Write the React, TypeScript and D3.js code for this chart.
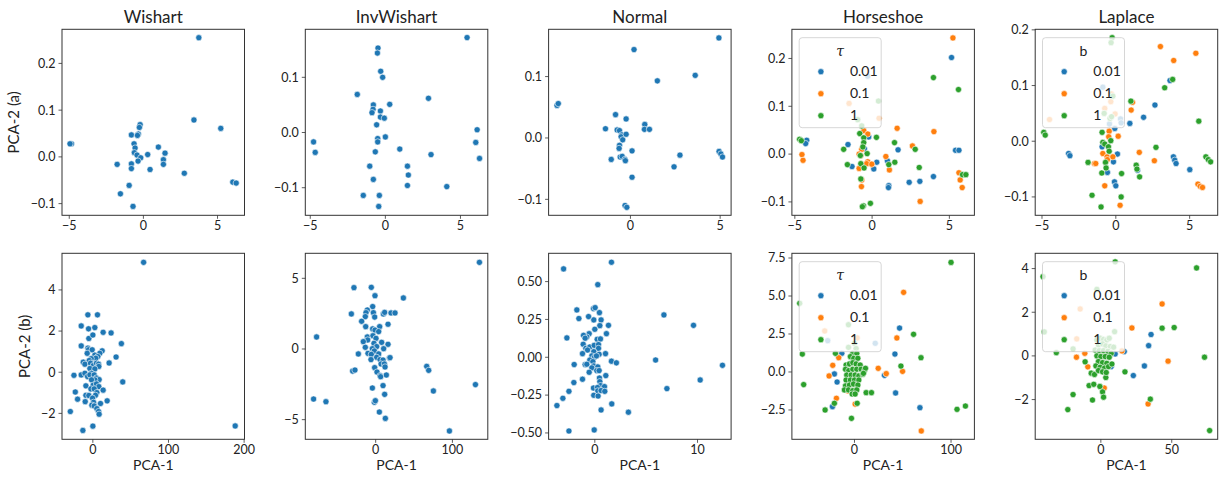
import React from 'react';
import * as d3 from 'd3';

type Pt = [number, number];

const BLUE = '#1f77b4';
const ORANGE = '#ff7f0e';
const GREEN = '#2ca02c';
const FONT = 'Lato, "Liberation Sans", sans-serif';

// ---- row (a) ----
const wishartA: Pt[] = [
  [3.74, 0.255], [3.41, 0.079], [5.22, 0.061], [-4.85, 0.028], [-4.95, 0.028], [-0.22, 0.069],
  [-0.27, 0.063], [-0.81, 0.047], [-0.34, 0.049], [-0.4, 0.046], [-0.63, 0.028], [-0.56, 0.019],
  [-0.61, 0.009], [-0.43, 0.004], [-0.18, -0.002], [-0.36, -0.009], [0.29, 0.005], [1.01, 0.021],
  [1.46, 0.008], [1.35, -0.006], [1.35, -0.016], [0.45, -0.027], [2.76, -0.035], [-1.77, -0.016],
  [-0.81, -0.015], [-0.81, -0.025], [-0.96, -0.061], [-1.55, -0.079], [-0.7, -0.106], [6.03, -0.054],
  [6.26, -0.056],
];

const invWishartA: Pt[] = [
  [5.44, 0.172], [-0.49, 0.153], [-0.53, 0.144], [-0.31, 0.111], [-0.18, 0.1], [-1.87, 0.069],
  [2.87, 0.062], [0.29, 0.051], [-0.8, 0.05], [-0.82, 0.042], [-0.89, 0.036], [-0.33, 0.039],
  [-0.33, 0.028], [-0.07, 0.026], [-0.58, 0.014], [6.11, 0.005], [0.0, -0.008], [-0.51, -0.011],
  [-0.51, -0.017], [-4.78, -0.017], [-4.67, -0.036], [6.02, -0.018], [-0.67, -0.035], [0.96, -0.03],
  [3.04, -0.04], [6.27, -0.047], [-1.04, -0.061], [1.47, -0.061], [1.53, -0.077], [1.47, -0.096],
  [-0.8, -0.085], [4.09, -0.098], [-1.47, -0.114], [-0.4, -0.114], [-0.44, -0.134],
];

const normalA: Pt[] = [
  [4.93, 0.163], [0.2, 0.144], [3.61, 0.102], [1.5, 0.093], [-4.09, 0.053], [-4.02, 0.056],
  [-0.83, 0.038], [-0.24, 0.031], [-1.39, 0.015], [-0.74, 0.013], [-0.61, 0.012], [0.8, 0.022],
  [0.78, 0.014], [1.06, 0.014], [-0.48, 0.005], [-0.52, 0.002], [-0.43, -0.003], [-0.24, 0.006],
  [-0.61, -0.012], [-0.63, -0.017], [0.09, -0.021], [-1.07, -0.035], [-0.57, -0.031], [-0.46, -0.03],
  [-0.31, -0.035], [-0.28, -0.037], [2.76, -0.028], [2.43, -0.047], [4.94, -0.022], [5.04, -0.026],
  [5.13, -0.031], [0.09, -0.064], [-0.3, -0.11], [-0.2, -0.113],
];

const horseshoeA001: Pt[] = [
  [5.14, 0.202], [-0.28, 0.163], [-4.23, 0.029], [-4.3, 0.022], [-1.56, 0.02], [-0.22, 0.036],
  [-0.5, 0.011], [1.68, 0.009], [0.3, -0.017], [0.11, -0.031], [0.99, -0.014], [-1.3, -0.026],
  [1.08, -0.066], [1.06, -0.07], [2.4, -0.059], [3.09, -0.057], [3.97, -0.047], [5.4, 0.008],
  [5.62, 0.008],
];
const horseshoeA01: Pt[] = [
  [5.23, 0.243], [-1.49, 0.106], [0.45, 0.075], [1.62, 0.054], [4.0, 0.047], [-0.54, 0.049],
  [-0.28, 0.042], [-4.54, -0.001], [-4.47, -0.013], [2.61, 0.017], [-0.67, 0.01], [-0.84, 0.0],
  [-0.73, -0.003], [-0.28, -0.016], [-0.35, -0.02], [-0.02, -0.021], [0.89, -0.005], [1.12, -0.033],
  [-0.84, -0.03], [-0.67, -0.054], [-0.69, -0.068], [3.11, -0.099], [5.62, -0.039], [5.7, -0.054],
  [5.83, -0.07],
];
const horseshoeA1: Pt[] = [
  [3.97, 0.16], [5.59, 0.135], [0.41, 0.111], [-0.93, 0.072], [-0.67, 0.059], [-0.8, 0.043],
  [0.28, 0.035], [-0.54, 0.034], [-0.54, 0.024], [-4.69, 0.031], [-4.58, 0.028], [1.45, 0.024],
  [-1.84, 0.01], [2.79, 0.01], [-0.6, 0.015], [-0.32, 0.001], [-0.76, -0.003], [-0.73, -0.02],
  [-0.52, -0.029], [-1.6, -0.022], [1.47, -0.017], [1.08, -0.022], [3.05, -0.028], [-0.73, -0.052],
  [5.85, -0.043], [6.07, -0.043], [-0.56, -0.108], [-0.63, -0.11], [-0.11, -0.103],
];

const laplaceA001: Pt[] = [
  [-0.88, 0.097], [-0.43, 0.031], [0.32, 0.04], [0.36, 0.033], [-0.07, 0.023], [0.95, 0.032],
  [1.88, 0.043], [2.65, 0.065], [3.67, 0.109], [-3.2, -0.022], [-3.11, -0.026], [-0.93, -0.01],
  [0.11, -0.023], [-0.16, -0.037], [-0.57, -0.056], [-0.09, -0.073], [0.0, -0.08], [1.47, -0.052],
  [3.9, -0.028], [3.99, -0.034], [4.08, -0.04], [5.01, -0.051],
];
const laplaceA01: Pt[] = [
  [3.02, 0.17], [5.42, 0.158], [3.92, 0.145], [-0.34, 0.071], [-0.75, 0.059], [-0.05, 0.049],
  [-4.49, 0.039], [1.04, 0.056], [1.13, 0.07], [-0.45, 0.018], [-0.48, 0.008], [0.16, 0.009],
  [-0.88, -0.022], [-0.59, -0.028], [-0.57, -0.033], [-0.2, -0.028], [-1.45, -0.04], [-1.36, -0.04],
  [1.59, -0.02], [2.61, -0.035], [-0.75, -0.08], [0.29, -0.115], [5.56, -0.077], [5.71, -0.081],
  [5.87, -0.083], [-0.3, 0.085],
];
const laplaceA1: Pt[] = [
  [-0.25, 0.186], [-0.32, 0.177], [-0.2, 0.081], [-0.79, 0.05], [-0.39, 0.041], [-0.29, 0.044],
  [1.02, 0.072], [3.85, 0.111], [3.31, 0.096], [5.62, 0.036], [-4.88, 0.016], [-4.78, 0.011],
  [-0.93, 0.016], [-0.88, -0.002], [-0.75, -0.005], [-0.5, -0.01], [-0.45, -0.018], [-0.34, 0.001],
  [-0.7, -0.038], [-0.66, -0.048], [-1.88, -0.038], [2.72, -0.011], [1.38, -0.043], [1.43, -0.05],
  [1.61, -0.064], [0.39, -0.058], [-0.95, -0.057], [-1.61, -0.097], [0.36, -0.1], [-1.0, -0.118],
  [6.1, -0.028], [6.26, -0.033], [6.42, -0.037],
];

// ---- row (b) ----
const wishartB: Pt[] = [
  [67.1, 5.34], [188.2, -2.61], [-6.6, 2.79], [6.1, 2.79], [-15.4, 2.25], [-5.7, 2.11], [2.6, 2.17],
  [-5.3, 1.64], [0, 1.81], [13.6, 1.94], [24.1, 1.91], [37.7, 1.39], [30.7, 0.74], [21.5, 0.45],
  [-15.4, 1.28], [-6.6, 1.17], [-5.7, 1.09], [-0.9, 1.09], [12.3, 1.04], [9.2, 0.92], [-7.5, 0.92],
  [2.6, 0.83], [6.6, 0.76], [3.9, 0.68], [-2.2, 0.66], [-4.8, 0.57], [-12.7, 0.49], [-10.5, 0.39],
  [-3.1, 0.44], [0.4, 0.32], [4.8, 0.44], [7.5, 0.39], [7.9, 0.28], [-3.9, 0.18], [2.6, 0.16],
  [-25.0, -0.15], [-15.4, -0.13], [-10.5, -0.05], [-7.0, -0.21], [-1.8, -0.05], [-3.9, -0.13],
  [1.8, -0.13], [4.8, -0.28], [8.3, -0.36], [2.6, -0.37], [-1.8, -0.37], [39.5, -0.47], [-9.2, -0.66],
  [0.4, -0.63], [4.8, -0.57], [7.9, -0.7], [13.6, -0.87], [-2.6, -0.81], [1.8, -0.81], [-23.2, -0.96],
  [5.3, -0.99], [-9.2, -1.12], [-5.3, -1.13], [3.5, -1.12], [-0.4, -1.26], [-20.2, -1.31],
  [-10.1, -1.43], [0.9, -1.46], [18.9, -1.39], [10.1, -1.52], [-1.3, -1.6], [1.8, -1.64], [5.3, -1.77],
  [7.5, -1.91], [8.3, -2.04], [-29.8, -1.91], [0, -2.62], [-13.2, -2.83],
];

const invWishartB: Pt[] = [
  [135.2, 6.13], [-28.3, 4.34], [-5.7, 4.36], [-0.9, 3.77], [36.1, 3.61], [-3.9, 3.0], [-10.9, 2.76],
  [-12.6, 2.57], [-13.5, 2.29], [-31.7, 2.48], [-3.0, 2.57], [-1.3, 2.26], [10, 2.48], [11.7, 2.59],
  [20, 2.55], [25.2, 2.55], [-18.3, 1.96], [-13.0, 1.58], [5.2, 1.58], [16.1, 1.75], [-3.9, 1.42],
  [-0.9, 1.34], [3.9, 1.23], [-77.0, 0.85], [-10.9, 0.85], [-10.4, 0.64], [-3.5, 0.94], [0.4, 0.75],
  [-16.1, 0.52], [7.8, 0.47], [16.1, 0.33], [-13.5, 0.12], [-2.2, 0.4], [1.3, 0.17], [-4.3, 0.02],
  [-1.7, -0.14], [10.4, 0.02], [-22.6, -0.35], [-10.0, -0.31], [-5.7, -0.38], [3.9, -0.35],
  [1.3, -0.59], [5.7, -0.75], [17.8, -0.64], [18.7, -0.61], [-6.1, -0.75], [9.6, -0.78], [7.0, -1.06],
  [11.3, -1.06], [12.2, -1.27], [-1.3, -1.32], [66.5, -1.23], [69.1, -1.51], [-30.0, -1.56],
  [-27.0, -1.49], [1.7, -1.63], [5.7, -1.89], [6.5, -1.96], [13.9, -1.84], [130.0, -2.52], [9.6, -2.59],
  [-4.3, -2.76], [75.2, -2.97], [11.7, -3.21], [-80.9, -3.54], [-64.8, -3.73], [-1.7, -3.77],
  [-0.4, -3.66], [4.8, -4.46], [12.6, -4.91], [96.1, -5.8],
];

const normalB: Pt[] = [
  [1.62, 0.628], [-3.04, 0.584], [0.29, 0.48], [6.73, 0.28], [9.61, 0.211], [-1.75, 0.313],
  [-1.55, 0.256], [-0.13, 0.322], [0.03, 0.328], [0.45, 0.295], [0.61, 0.247], [-0.1, 0.247],
  [-0.61, 0.269], [0.49, 0.209], [1.33, 0.211], [0, 0.185], [-0.55, 0.156], [-0.78, 0.134],
  [-1.1, 0.145], [-0.94, 0.126], [-2.72, 0.128], [0.23, 0.119], [0.55, 0.121], [1.13, 0.156],
  [-1.13, 0.086], [-0.87, 0.059], [-0.49, 0.068], [-0.06, 0.079], [0.36, 0.084], [0.36, 0.059],
  [-0.71, 0.048], [-0.1, 0.037], [0.42, 0.02], [1.04, 0.024], [-1.2, 0.024], [-0.29, 0.009], [-0.03, 0],
  [0.16, 0.009], [-0.49, -0.018], [-0.19, -0.029], [5.92, -0.018], [1.62, -0.026], [2.1, -0.037],
  [-2.01, -0.048], [-0.94, -0.048], [-0.78, -0.046], [-0.1, -0.057], [0.29, -0.064], [12.43, -0.053],
  [-0.29, -0.07], [0.19, -0.088], [0.42, -0.088], [-0.55, -0.099], [1.07, -0.121], [-1.2, -0.145],
  [0.45, -0.137], [0.49, -0.161], [-2.04, -0.167], [10.26, -0.15], [0.55, -0.187], [0.94, -0.194],
  [-0.13, -0.203], [0.26, -0.2], [7.02, -0.207], [-2.52, -0.225], [0.29, -0.222], [0.61, -0.22],
  [0.97, -0.225], [-0.1, -0.251], [0.32, -0.256], [-3.11, -0.271], [1.65, -0.308], [-3.69, -0.319],
  [0.61, -0.348], [3.27, -0.363], [-2.52, -0.487], [-0.06, -0.48],
];

const horseshoeB001: Pt[] = [
  [46.7, 2.89], [41.9, 1.18], [-13.1, 1.23], [21.5, 1.89], [-27.7, 2.06], [-20.8, -0.13],
  [-18.0, -0.66], [-22.8, -2.28], [31.1, -0.22], [42.6, -1.38], [67.8, -2.35],
];
const horseshoeB01: Pt[] = [
  [50.9, 5.24], [43.9, 2.24], [-30.8, 2.7], [2.8, 2.24], [-16.3, 0.94], [-22.5, 0.44], [-26.3, -0.26],
  [24.6, 0.24], [32.9, -0.11], [49.8, 0.04], [-18.7, -1.73], [-6.6, -1.25], [0.7, -2.11], [69.2, -3.88],
];
const horseshoeB1: Pt[] = [
  [100.0, 7.21], [-56.7, 4.52], [-54.0, 1.18], [-52.6, -0.83], [61.2, 2.48], [68.9, 0.94], [48.1, 0.39],
  [-6.2, 3.11], [-19.7, 1.23], [-30.4, -2.5], [-20.8, -2.06], [-3.1, -3.05], [106.2, -2.46],
  [114.9, -2.24], [12.1, -1.36], [17.6, -1.36], [2.8, -2.06], [-6.2, 1.62], [0, 1.89], [1.7, 1.54],
  [-1.7, 1.23], [2.4, 1.23], [-4.2, 1.01], [-0.7, 0.9], [3.5, 0.9], [-8.7, 0.46], [-5.2, 0.53],
  [-1.7, 0.61], [1.7, 0.53], [5.9, 0.46], [-9.3, 0.18], [-5.9, 0.09], [-1.7, 0.18], [2.4, 0.18],
  [6.9, 0.18], [10.4, 0.09], [-8.0, -0.2], [-3.5, -0.2], [0.7, -0.2], [4.5, -0.26], [8.7, -0.15],
  [-8.7, -0.53], [-4.2, -0.53], [0, -0.53], [4.5, -0.53], [-9.3, -0.92], [-5.2, -0.86], [-1.0, -0.79],
  [3.5, -0.86], [-10.4, -1.18], [-6.2, -1.18], [-1.7, -1.23], [2.4, -1.18], [-2.4, -1.45], [0.7, -1.45],
  [11.4, 0.24], [9.3, -0.09],
];

const laplaceB001: Pt[] = [
  [35.4, 0.98], [33.7, 0.47], [30.7, -0.46], [22.9, -0.9], [7.3, -0.49], [10.1, 0.09], [16.5, 0.2],
];
const laplaceB01: Pt[] = [
  [43.2, 2.38], [21.9, 1.28], [-14.6, 2.15], [-17.0, 0.78], [14.9, 0.23], [-17.2, -0.06], [-11.3, 0.12],
  [-9.2, -0.5], [47.4, -0.24], [33.3, -2.2], [2.4, -1.47],
];
const laplaceB1: Pt[] = [
  [67.5, 4.03], [10.1, 4.31], [-40.8, 3.63], [-2.8, 3.05], [-39.9, 1.1], [9.7, 1.11], [-19.6, 0.32],
  [-31.4, 0.15], [43.2, 1.27], [51.7, 1.3], [73.1, -0.06], [76.7, -3.42], [34.9, -1.98], [17.0, -0.73],
  [-23.3, -2.46], [-19.6, -1.77], [-11.1, -0.27], [-8.3, -1.36], [-5.0, -1.3], [-5.9, -2.02],
  [-0.7, -1.4], [1.2, -1.65], [1.9, -1.89], [-6.8, -0.79], [-4.5, -0.85], [3.5, -0.99], [-2.8, 0.73],
  [-0.5, 0.81], [1.9, 0.76], [4.2, 0.73], [5.9, 0.81], [-1.7, 0.5], [1.2, 0.55], [3.5, 0.46], [6.6, 0.43],
  [9.0, 0.4], [-4.0, 0.27], [-1.2, 0.24], [1.9, 0.24], [5.0, 0.21], [7.3, 0.12], [-2.8, 0], [0, -0.03],
  [3.1, -0.03], [5.9, -0.06], [-1.7, -0.26], [1.2, -0.31], [4.2, -0.34], [-3.5, -0.46], [-0.5, -0.52],
  [2.6, -0.56], [5.4, -0.49], [-1.7, -0.67], [1.2, -0.73], [3.8, -0.76], [7.8, -0.37],
];

const TITLES = ['Wishart', 'InvWishart', 'Normal', 'Horseshoe', 'Laplace'];
const ROW_LABELS = ['PCA-2 (a)', 'PCA-2 (b)'];
const HUE_LEVELS = ['0.01', '0.1', '1'];
const HUE_COLORS = [BLUE, ORANGE, GREEN];

interface PanelCfg {
  series: Pt[][];
  xDomain: [number, number];
  yDomain: [number, number];
  xTicks: number[];
  yTicks: number[];
  yDec: number;
  legend?: string;
}

const PANELS: PanelCfg[][] = [
  [
    { series: [wishartA], xDomain: [-5.49, 6.82], yDomain: [-0.125, 0.273], xTicks: [-5, 0, 5], yTicks: [-0.1, 0, 0.1, 0.2], yDec: 1 },
    { series: [invWishartA], xDomain: [-5.33, 6.82], yDomain: [-0.15, 0.187], xTicks: [-5, 0, 5], yTicks: [-0.1, 0, 0.1], yDec: 1 },
    { series: [normalA], xDomain: [-4.56, 5.61], yDomain: [-0.126, 0.177], xTicks: [0, 5], yTicks: [-0.1, 0, 0.1], yDec: 1 },
    { series: [horseshoeA001, horseshoeA01, horseshoeA1], xDomain: [-5.19, 6.62], yDomain: [-0.128, 0.261], xTicks: [-5, 0, 5], yTicks: [-0.1, 0, 0.1, 0.2], yDec: 1, legend: 'τ' },
    { series: [laplaceA001, laplaceA01, laplaceA1], xDomain: [-5.46, 6.9], yDomain: [-0.133, 0.201], xTicks: [-5, 0, 5], yTicks: [-0.1, 0, 0.1, 0.2], yDec: 1, legend: 'b' },
  ],
  [
    { series: [wishartB], xDomain: [-40.8, 200.5], yDomain: [-3.26, 5.78], xTicks: [0, 100, 200], yTicks: [-2, 0, 2, 4], yDec: 0 },
    { series: [invWishartB], xDomain: [-91.7, 146.1], yDomain: [-6.39, 6.77], xTicks: [0, 100], yTicks: [-5, 0, 5], yDec: 0 },
    { series: [normalB], xDomain: [-4.5, 13.27], yDomain: [-0.542, 0.687], xTicks: [0, 10], yTicks: [-0.5, -0.25, 0, 0.25, 0.5], yDec: 2 },
    { series: [horseshoeB001, horseshoeB01, horseshoeB1], xDomain: [-64.8, 124.2], yDomain: [-4.43, 7.81], xTicks: [0, 100], yTicks: [-2.5, 0, 2.5, 5, 7.5], yDec: 1, legend: 'τ' },
    { series: [laplaceB001, laplaceB01, laplaceB1], xDomain: [-46.3, 82.4], yDomain: [-3.82, 4.7], xTicks: [0, 50], yTicks: [-2, 0, 2, 4], yDec: 0, legend: 'b' },
  ],
];

const W = 182.5;
const H = 186;
const LEFT0 = 62;
const COL_STEP = 243.3;
const TOPS = [29.3, 253.3];

const fmt = (v: number, dec: number) => d3.format(`.${dec}f`)(v).replace('-', '\u2212');

function Panel({ cfg, left, top }: { cfg: PanelCfg; left: number; top: number }) {
  const x = d3.scaleLinear().domain(cfg.xDomain).range([0, W]);
  const y = d3.scaleLinear().domain(cfg.yDomain).range([H, 0]);
  const colors = cfg.series.length > 1 ? HUE_COLORS : [BLUE];
  const clipId = `clip-${Math.round(left)}-${Math.round(top)}`;
  return (
    <g transform={`translate(${left},${top})`}>
      <defs>
        <clipPath id={clipId}>
          <rect x={0} y={0} width={W} height={H} />
        </clipPath>
      </defs>
      <g clipPath={`url(#${clipId})`}>
        {cfg.series.map((s, si) =>
          s.map((d, i) => (
            <circle key={`${si}-${i}`} cx={x(d[0])} cy={y(d[1])} r={3.1}
              fill={colors[si]} stroke="#fff" strokeWidth={0.6} />
          ))
        )}
      </g>
      {cfg.legend && (
        <g transform="translate(7.3,8.4)">
          <rect width={82} height={90} rx={3} fill="#fff" fillOpacity={0.8} stroke="#cccccc" strokeWidth={0.8} />
          <text x={41} y={18} textAnchor="middle" fontSize={14}
            fontStyle={cfg.legend === 'τ' ? 'italic' : 'normal'}
            fontFamily={cfg.legend === 'τ' ? '"DejaVu Serif", serif' : FONT} fill="#222">{cfg.legend}</text>
          {HUE_LEVELS.map((lv, i) => (
            <g key={lv}>
              <circle cx={21.7} cy={34 + i * 22} r={3.1} fill={HUE_COLORS[i]} stroke="#fff" strokeWidth={0.6} />
              <text x={50.7} y={34 + i * 22 + 4.8} fontSize={14} fontFamily={FONT} fill="#222">{lv}</text>
            </g>
          ))}
        </g>
      )}
      <rect x={0} y={0} width={W} height={H} fill="none" stroke="#333" strokeWidth={1} />
      {cfg.xTicks.map(t => (
        <g key={`x${t}`} transform={`translate(${x(t)},${H})`}>
          <line y2={3.5} stroke="#333" strokeWidth={0.8} />
          <text y={15} textAnchor="middle" fontSize={12.5} fontFamily={FONT} fill="#222">{fmt(t, 0)}</text>
        </g>
      ))}
      {cfg.yTicks.map(t => (
        <g key={`y${t}`} transform={`translate(0,${y(t)})`}>
          <line x2={-3.5} stroke="#333" strokeWidth={0.8} />
          <text x={-6.5} dy="0.35em" textAnchor="end" fontSize={12.5} fontFamily={FONT} fill="#222">{fmt(t, cfg.yDec)}</text>
        </g>
      ))}
    </g>
  );
}

export default function App() {
  return (
    <div style={{ position: 'absolute', left: 0, top: 0 }}>
      <svg width={1225} height={479} style={{ display: 'block', background: '#fff' }}>
        {PANELS.map((row, ri) =>
          row.map((cfg, ci) => (
            <Panel key={`${ri}-${ci}`} cfg={cfg} left={LEFT0 + ci * COL_STEP} top={TOPS[ri]} />
          ))
        )}
        {TITLES.map((t, ci) => (
          <text key={t} x={LEFT0 + ci * COL_STEP + W / 2} y={TOPS[0] - 6} textAnchor="middle"
            fontSize={17} fontFamily={FONT} fill="#222">{t}</text>
        ))}
        {ROW_LABELS.map((t, ri) => (
          <text key={t} transform={`translate(${ri === 0 ? 19 : 30},${TOPS[ri] + H / 2}) rotate(-90)`}
            textAnchor="middle" fontSize={15} fontFamily={FONT} fill="#222">{t}</text>
        ))}
        {TITLES.map((t, ci) => (
          <text key={`xl${t}`} x={LEFT0 + ci * COL_STEP + W / 2} y={TOPS[1] + H + 31} textAnchor="middle"
            fontSize={14} fontFamily={FONT} fill="#222">PCA-1</text>
        ))}
      </svg>
    </div>
  );
}
